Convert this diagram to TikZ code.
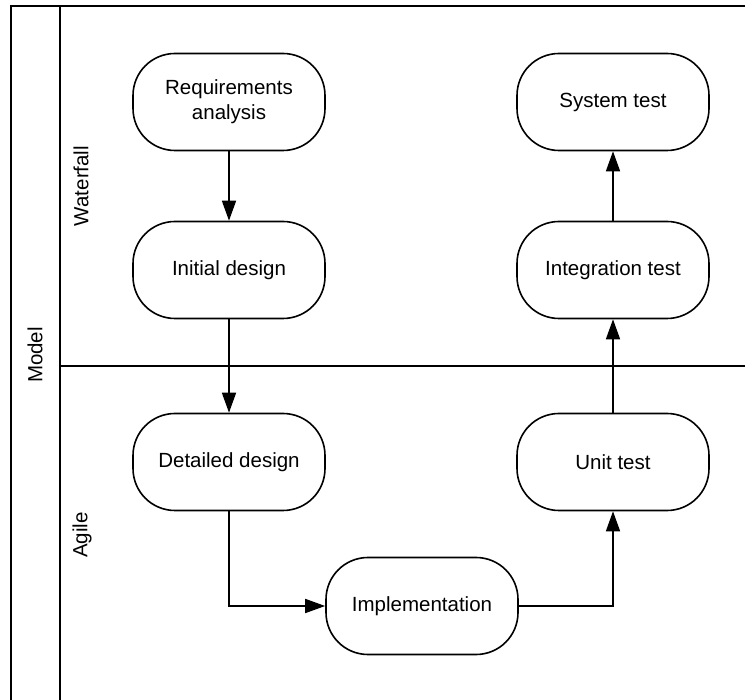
\documentclass[tikz,border=0pt]{standalone}
\usepackage{fontspec}
\setmainfont{Liberation Sans}
\usetikzlibrary{arrows.meta}

\begin{document}
\begin{tikzpicture}[x=1pt,y=-1pt,
  phase/.style={rectangle,draw,line width=1.6pt,rounded corners=42pt,
                minimum width=192pt,minimum height=97pt,align=center,
                font=\fontsize{20.5}{25}\selectfont},
  lane/.style={rotate=90,font=\fontsize{20.5}{25}\selectfont},
  arr/.style={-{Triangle[length=20pt,width=14pt]},line width=1.6pt},
  frame/.style={line width=1.6pt},
]
  \useasboundingbox (0,0) rectangle (745,700);

  % Frame and lanes
  \draw[frame] (11,700) -- (11,6) -- (745,6);
  \draw[frame] (60,6) -- (60,700);
  \draw[frame] (60,366) -- (745,366);

  \node[lane] (model)     at (35,355) {Model};
  \node[lane] (waterfall) at (81,186) {Waterfall};
  \node[lane] (agile)     at (82,535) {Agile};

  % Phases
  \node[phase] (req)   at (229,102) {Requirements\\analysis};
  \node[phase] (init)  at (229,270) {Initial design};
  \node[phase] (det)   at (229,462) {Detailed design};
  \node[phase] (impl)  at (422,606) {Implementation};
  \node[phase] (unit)  at (613,462) {Unit test};
  \node[phase] (integ) at (613,270) {Integration test};
  \node[phase] (sys)   at (613,102) {System test};

  % Flow
  \draw[arr] (req) -- (init);
  \draw[arr] (init) -- (det);
  \draw[arr] (det.south) |- (impl.west);
  \draw[arr] (impl.east) -| (unit.south);
  \draw[arr] (unit) -- (integ);
  \draw[arr] (integ) -- (sys);
\end{tikzpicture}
\end{document}
